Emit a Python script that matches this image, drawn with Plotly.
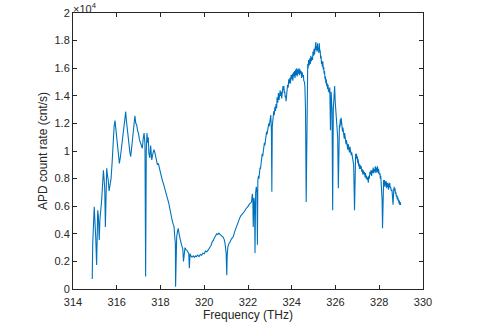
import plotly.graph_objects as go

# APD count rate vs frequency in five pieces

# left hump
freq_left = [
    314.88, 314.90, 314.97, 315.00, 315.04, 315.08, 315.11, 315.13, 315.16, 315.20,
    315.23, 315.25, 315.28, 315.31, 315.35, 315.39, 315.42, 315.45, 315.48, 315.51,
    315.54, 315.58, 315.61, 315.65, 315.69, 315.74, 315.79, 315.84, 315.88, 315.92,
    315.95, 315.99, 316.04, 316.08, 316.12, 316.17, 316.22, 316.27, 316.32, 316.37,
    316.41, 316.44, 316.48, 316.52, 316.55, 316.60, 316.64, 316.68, 316.71, 316.76,
    316.80, 316.83, 316.87, 316.91, 316.95, 316.99, 317.04, 317.09, 317.13, 317.17,
    317.21, 317.25, 317.29, 317.32, 317.35, 317.38, 317.41, 317.44, 317.47, 317.51,
    317.55, 317.60, 317.65, 317.70, 317.74, 317.78, 317.82, 317.86, 317.90, 317.94,
]
counts_left = [
    720, 3200, 5960, 5200, 3670, 1740, 4500, 5700, 5300, 3550,
    5000, 5600, 5900, 6450, 7500, 8600, 8000, 7300, 4500, 7500,
    8750, 8200, 7900, 7100, 7600, 8000, 9200, 10800, 11800, 12200,
    11700, 11200, 10100, 9500, 9100, 9600, 10200, 11000, 11650, 12300,
    12850, 12200, 11600, 10900, 10300, 9900, 9600, 10300, 11000, 11800,
    12300, 12550, 12000, 11900, 11500, 11300, 10800, 10500, 10300, 10200,
    10900, 11300, 10500, 900, 10000, 11300, 10600, 11000, 9800, 9500,
    10400, 9350, 9800, 10100, 9900, 9500, 9400, 9000, 9100, 8800,
]

# fall, valley and first rise
freq_mid = [
    317.98, 318.03, 318.08, 318.13, 318.18, 318.23, 318.28, 318.33, 318.38, 318.43,
    318.48, 318.53, 318.58, 318.62, 318.65, 318.68, 318.69, 318.71, 318.74, 318.78,
    318.81, 318.85, 318.89, 318.93, 318.98, 319.02, 319.05, 319.08, 319.12, 319.16,
    319.21, 319.26, 319.29, 319.32, 319.35, 319.39, 319.44, 319.50, 319.55, 319.60,
    319.65, 319.70, 319.76, 319.82, 319.88, 319.94, 320.00, 320.06, 320.12, 320.19,
    320.25, 320.31, 320.36, 320.41, 320.46, 320.51, 320.57, 320.62, 320.67, 320.72,
    320.77, 320.82, 320.87, 320.91, 320.95, 321.00, 321.03, 321.05, 321.08, 321.13,
    321.18, 321.23, 321.28, 321.33, 321.38, 321.44, 321.50, 321.56, 321.61, 321.67,
    321.73, 321.79, 321.85, 321.90, 321.96, 322.01, 322.06, 322.11, 322.16, 322.20,
]
counts_mid = [
    8500, 8200, 7900, 7650, 7400, 7100, 6800, 6500, 6200, 5700,
    5300, 5000, 4700, 4500, 3800, 3300, 170, 3100, 3800, 4200,
    4400, 4000, 3550, 3400, 3100, 2900, 2000, 2800, 3000, 2850,
    2800, 2650, 2600, 1500, 2550, 2400, 2300, 2400, 2300, 2400,
    2350, 2450, 2350, 2500, 2450, 2600, 2550, 2750, 2700, 2850,
    3000, 3150, 3400, 3500, 3700, 3850, 4000, 3950, 4050, 3950,
    3900, 3850, 3750, 3600, 3300, 2600, 1000, 2500, 3050, 3300,
    3400, 3600, 3700, 3800, 4100, 4350, 4600, 5000, 5100, 5300,
    5400, 5500, 5650, 5800, 5900, 6000, 6150, 6250, 6300, 6900,
]

# steep rise to the main peak
freq_rise = [
    322.22, 322.24, 322.27, 322.30, 322.32, 322.35, 322.38, 322.41, 322.43, 322.45,
    322.48, 322.50, 322.52, 322.55, 322.57, 322.60, 322.62, 322.65, 322.67, 322.70,
    322.72, 322.75, 322.77, 322.80, 322.82, 322.85, 322.87, 322.90, 322.92, 322.95,
    322.97, 323.00, 323.02, 323.04, 323.07, 323.09, 323.11, 323.14, 323.18, 323.20,
    323.23, 323.26, 323.28, 323.31, 323.33, 323.36, 323.39, 323.42, 323.44, 323.47,
    323.49, 323.52, 323.54, 323.56, 323.58, 323.60, 323.62, 323.64, 323.66, 323.68,
    323.70, 323.72, 323.74, 323.76, 323.78, 323.81, 323.84, 323.86, 323.89, 323.92,
    323.94, 323.97, 324.00, 324.03, 324.05, 324.08, 324.10, 324.13, 324.15, 324.18,
    324.20, 324.23, 324.25, 324.28, 324.30, 324.33, 324.35, 324.38, 324.40, 324.43,
    324.45, 324.48, 324.50, 324.53, 324.55, 324.58, 324.60,
]
counts_rise = [
    6500, 4500, 6600, 6200, 2600, 7000, 7400, 7000, 3200, 7900,
    8200, 8000, 8600, 8800, 8700, 9300, 9100, 9800, 9600, 10200,
    10000, 10600, 10400, 11000, 10800, 11400, 11200, 11700, 11500, 12000,
    11800, 12300, 12100, 12600, 11500, 7050, 11800, 12500, 12900, 12600,
    13200, 12900, 13400, 13100, 13900, 13500, 14200, 13700, 13900, 14400,
    14000, 14300, 13800, 14100, 14300, 14700, 14400, 14700, 14200, 14300,
    13900, 14000, 13600, 14100, 14300, 14800, 14600, 15200, 14900, 15300,
    14900, 15500, 15200, 15600, 15100, 15700, 15400, 15800, 15300, 15900,
    15500, 16000, 15400, 15900, 15600, 16000, 15500, 15900, 15600, 15800,
    15300, 15700, 15400, 15500, 15100, 15000, 14700,
]

# main peak with its dips
freq_peak = [
    324.63, 324.66, 324.69, 324.71, 324.73, 324.75, 324.77, 324.80, 324.82, 324.85,
    324.87, 324.90, 324.92, 324.95, 324.97, 325.00, 325.02, 325.04, 325.06, 325.08,
    325.10, 325.12, 325.14, 325.16, 325.18, 325.20, 325.22, 325.24, 325.26, 325.28,
    325.30, 325.32, 325.34, 325.36, 325.38, 325.40, 325.42, 325.44, 325.46, 325.48,
    325.50, 325.52, 325.54, 325.56, 325.58, 325.60, 325.62, 325.64, 325.66, 325.68,
    325.70, 325.72, 325.74, 325.77, 325.80, 325.84, 325.87, 325.90, 325.93, 325.96,
    325.99, 326.03, 326.07, 326.10, 326.13,
]
counts_peak = [
    13000, 6300, 13500, 15800, 16300, 16000, 16600, 16200, 16700, 16300,
    16900, 16500, 16800, 16600, 17200, 16900, 17400, 17000, 17300, 17600,
    17900, 17300, 17600, 17200, 17800, 17300, 17500, 17100, 17800, 17200,
    17300, 16700, 16900, 16300, 16500, 16100, 16500, 15900, 16100, 15600,
    15800, 15200, 15400, 14900, 15200, 14700, 14900, 14500, 14800, 14300,
    14500, 14200, 14600, 11500, 14300, 13000, 5700, 13000, 14400, 14700,
    13500, 12700, 12000, 11000, 7300,
]

# slow tail to the right
freq_tail = [
    326.16, 326.18, 326.20, 326.22, 326.24, 326.26, 326.28, 326.30, 326.32, 326.34,
    326.36, 326.38, 326.40, 326.42, 326.44, 326.46, 326.48, 326.50, 326.52, 326.54,
    326.56, 326.58, 326.60, 326.62, 326.64, 326.66, 326.68, 326.70, 326.72, 326.74,
    326.76, 326.78, 326.80, 326.83, 326.87, 326.90, 326.92, 326.94, 326.96, 326.98,
    327.00, 327.02, 327.04, 327.06, 327.08, 327.10, 327.12, 327.15, 327.17, 327.20,
    327.22, 327.25, 327.27, 327.30, 327.32, 327.35, 327.37, 327.40, 327.42, 327.45,
    327.47, 327.50, 327.52, 327.55, 327.57, 327.60, 327.62, 327.65, 327.67, 327.70,
    327.72, 327.75, 327.77, 327.80, 327.82, 327.85, 327.87, 327.90, 327.92, 327.95,
    327.97, 328.00, 328.03, 328.05, 328.07, 328.09, 328.11, 328.13, 328.15, 328.18,
    328.20, 328.22, 328.24, 328.26, 328.28, 328.30, 328.32, 328.34, 328.36, 328.38,
    328.40, 328.42, 328.44, 328.46, 328.48, 328.50, 328.52, 328.55, 328.58, 328.60,
    328.63, 328.66, 328.68, 328.70, 328.72, 328.74, 328.76, 328.78, 328.80, 328.82,
    328.84, 328.86, 328.88, 328.90, 328.92, 328.94, 328.96, 328.98,
]
counts_tail = [
    11200, 11900, 11700, 12300, 11900, 12400, 11800, 12000, 11400, 11700,
    11200, 11500, 10900, 11300, 10700, 11000, 10500, 10800, 10300, 10600,
    10100, 10500, 10200, 10400, 9900, 10300, 9900, 10100, 9700, 9900,
    9600, 9800, 9400, 9000, 5700, 9200, 9800, 9500, 9800, 9400,
    9600, 9100, 9400, 8900, 9100, 8700, 9000, 8700, 8900, 8500,
    8700, 8300, 8600, 8300, 8500, 8100, 8400, 8000, 8200, 7900,
    8100, 7700, 8200, 8000, 8500, 8300, 8600, 8200, 8600, 8400,
    8800, 8400, 8700, 8500, 8900, 8400, 8800, 8500, 8900, 8400,
    8700, 8300, 8400, 8000, 8200, 7600, 7000, 6500, 4400, 7200,
    7900, 7500, 7900, 7400, 7800, 7500, 7800, 7300, 7700, 7400,
    7700, 7200, 7600, 7400, 7700, 7300, 7400, 7100, 7200, 6800,
    6100, 7100, 7400, 7100, 7300, 6900, 7000, 6700, 6800, 6500,
    6700, 6400, 6500, 6200, 6400, 6100, 6300, 6100,
]

freq = freq_left + freq_mid + freq_rise + freq_peak + freq_tail
counts = counts_left + counts_mid + counts_rise + counts_peak + counts_tail

x_ticks = [314, 316, 318, 320, 322, 324, 326, 328, 330]
y_ticks = [0, 2000, 4000, 6000, 8000, 10000, 12000, 14000, 16000, 18000, 20000]
y_ticktext = ['0', '0.2', '0.4', '0.6', '0.8', '1', '1.2', '1.4', '1.6', '1.8', '2']

axis_col = '#262626'

fig = go.Figure()
fig.add_trace(go.Scatter(x=freq, y=counts, mode='lines',
                         line=dict(color='#0072BD', width=1.1)))

fig.update_layout(
    width=479, height=326,
    margin=dict(l=73, r=56, t=13, b=37),
    paper_bgcolor='white', plot_bgcolor='white',
    showlegend=False,
    font=dict(family='Liberation Sans, Arial, sans-serif', size=11, color=axis_col),
)
fig.update_xaxes(
    range=[314, 330], tickvals=x_ticks, ticks='inside', ticklen=4,
    ticklabelstandoff=3,
    showline=True, linecolor=axis_col, linewidth=1, mirror='ticks',
    tickcolor=axis_col, showgrid=False, zeroline=False, automargin=False,
    title=dict(text='Frequency (THz)', font=dict(size=12), standoff=2),
)
fig.update_yaxes(
    range=[0, 20000], tickvals=y_ticks, ticktext=y_ticktext, ticks='inside', ticklen=4,
    showline=True, linecolor=axis_col, linewidth=1, mirror='ticks',
    tickcolor=axis_col, showgrid=False, zeroline=False, automargin=False,
    title=dict(text='APD count rate (cnt/s)', font=dict(size=12), standoff=4),
)
fig.add_annotation(text='×10<sup>4</sup>', xref='paper', yref='paper', x=0, y=1,
                   xanchor='left', yanchor='bottom', showarrow=False,
                   font=dict(size=11, color=axis_col), xshift=-2, yshift=-4)

# page body has an 8px default margin; drop it so the figure sits at 0,0
fig.write_html('out.html', config={'displayModeBar': False},
               post_script="document.body.style.margin='0';")
